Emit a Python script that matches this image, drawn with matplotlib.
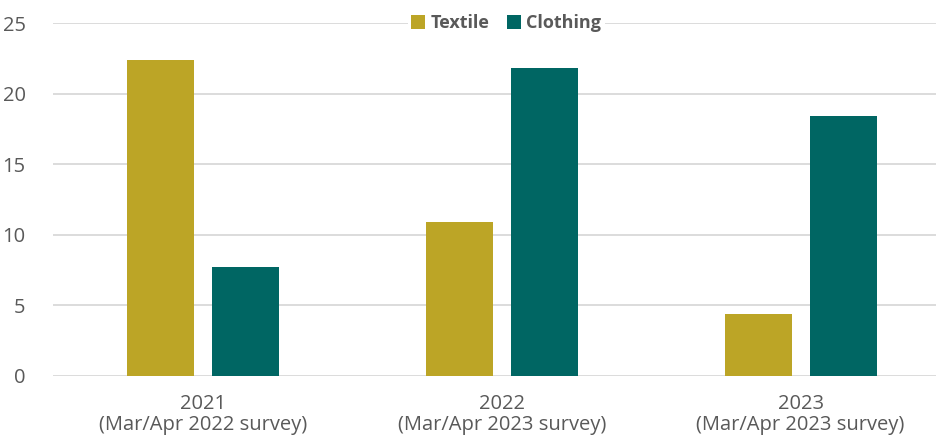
import numpy as np
import matplotlib.pyplot as plt

categories = ["2021\n(Mar/Apr 2022 survey)", "2022\n(Mar/Apr 2023 survey)", "2023\n(Mar/Apr 2023 survey)"]
textile = [22.4, 10.9, 4.4]
clothing = [7.7, 21.8, 18.4]
yticks = [0, 5, 10, 15, 20, 25]

plt.rcParams["font.family"] = ["Open Sans", "DejaVu Sans"]

fig = plt.figure(figsize=(9.36, 4.46), dpi=100)
ax = fig.add_axes([0.057, 0.157, 0.958, 0.791])

x = np.arange(len(categories))
w = 0.224
ax.bar(x - 0.142, textile, w, color="#BCA526", label="Textile", zorder=3)
ax.bar(x + 0.142, clothing, w, color="#006663", label="Clothing", zorder=3)

ax.set_xlim(-0.5, 2.5)
ax.set_ylim(0, 25)
ax.set_yticks(yticks)
ax.set_xticks(x)
ax.set_xticklabels(categories, color="#595959", fontsize=14.5, linespacing=1.05)
ax.tick_params(axis="y", colors="#595959", labelsize=14.5, length=0, pad=20)
ax.tick_params(axis="x", length=0, pad=13)
ax.grid(axis="y", color="#D9D9D9", linewidth=1.3, zorder=0)
ax.set_axisbelow(True)
for s in ax.spines.values():
    s.set_visible(False)

leg = ax.legend(loc="center", bbox_to_anchor=(0.505, 1.0), ncol=2, frameon=True,
                framealpha=1, edgecolor="none", handlelength=0.75, handleheight=0.75,
                handletextpad=0.3, columnspacing=1.0, borderpad=0.2,
                prop={"weight": "bold", "size": 13})
for t in leg.get_texts():
    t.set_color("#595959")

fig.savefig("out.png", dpi=100)
